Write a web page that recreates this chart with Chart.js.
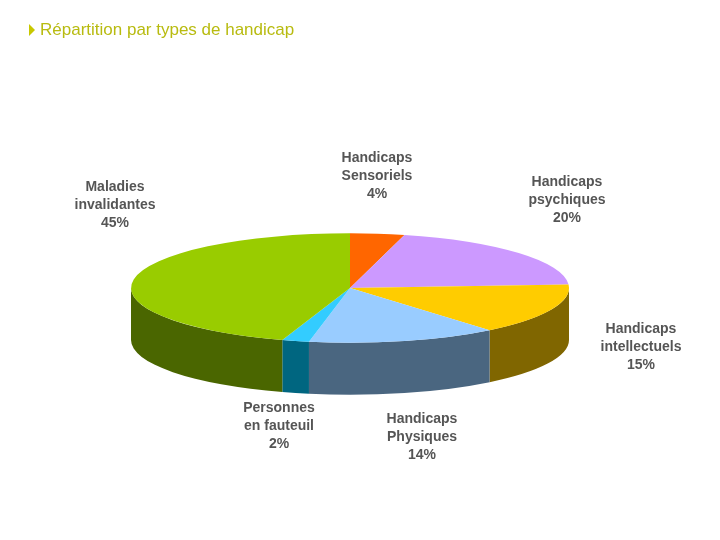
<!DOCTYPE html>
<html><head><meta charset="utf-8">
<script src="https://cdn.jsdelivr.net/npm/chart.js"></script>
<style>body{margin:0;background:#fff}#wrap{width:720px;height:540px}</style>
</head><body><div id="wrap"><canvas id="c" width="720" height="540"></canvas></div>
<script>
const labels = [["Handicaps","Sensoriels","4%"],["Handicaps","psychiques","20%"],["Handicaps","intellectuels","15%"],["Handicaps","Physiques","14%"],["Personnes","en fauteuil","2%"],["Maladies","invalidantes","45%"]];
const values = [4, 20, 15, 14, 2, 45];
const topColors = ["#ff6600", "#cc99ff", "#ffcc00", "#99ccff", "#33ccff", "#99cc00"];
const sideColors = ["#803300", "#664d80", "#806600", "#4a6680", "#006680", "#4a6600"];
const labelPos = [[377,176],[567,200],[641,347],[422,437],[279,426],[115,205]];

const K = 0.25, DEPTH = 52;

const pie3d = {
  id: 'pie3d',
  beforeDatasetsDraw(chart) {
    const ctx = chart.ctx;
    const arcs = chart.getDatasetMeta(0).data;
    const cx = arcs[0].x, cy = arcs[0].y, r = arcs[0].outerRadius;
    arcs.forEach((a, i) => {
      const s = Math.max(a.startAngle, 0), e = Math.min(a.endAngle, Math.PI);
      if (e <= s) return;
      ctx.beginPath();
      ctx.ellipse(cx, cy, r, r * K, 0, s, e);
      ctx.ellipse(cx, cy + DEPTH, r, r * K, 0, e, s, true);
      ctx.closePath();
      ctx.fillStyle = sideColors[i];
      ctx.fill();
    });
    ctx.save();
    ctx.translate(cx, cy);
    ctx.scale(1, K);
    ctx.translate(-cx, -cy);
  },
  afterDatasetsDraw(chart) {
    const ctx = chart.ctx;
    ctx.restore();
    ctx.save();
    ctx.fillStyle = '#555555';
    ctx.font = 'bold 14px "Liberation Sans", Arial, sans-serif';
    ctx.textAlign = 'center';
    ctx.textBaseline = 'middle';
    labels.forEach((l, i) => {
      l.forEach((t, j) => ctx.fillText(t, labelPos[i][0], labelPos[i][1] - 18 + j * 18));
    });
    ctx.fillStyle = '#c8c800';
    ctx.beginPath();
    ctx.moveTo(29, 24); ctx.lineTo(35, 30); ctx.lineTo(29, 36); ctx.closePath(); ctx.fill();
    ctx.fillStyle = '#b8bb10';
    ctx.font = '17px "Liberation Sans", Arial, sans-serif';
    ctx.textAlign = 'left';
    ctx.fillText('Répartition par types de handicap', 40, 30);
    ctx.restore();
  }
};

new Chart(document.getElementById('c'), {
  type: 'pie',
  data: {
    labels: labels.map(l => l.slice(0, 2).join(' ')),
    datasets: [{ data: values, backgroundColor: topColors, borderWidth: 0 }]
  },
  options: {
    responsive: false,
    animation: false,
    layout: { padding: { left: 131, right: 151, top: 69, bottom: 33 } },
    plugins: { legend: { display: false }, tooltip: { enabled: false } }
  },
  plugins: [pie3d]
});
</script></body></html>
